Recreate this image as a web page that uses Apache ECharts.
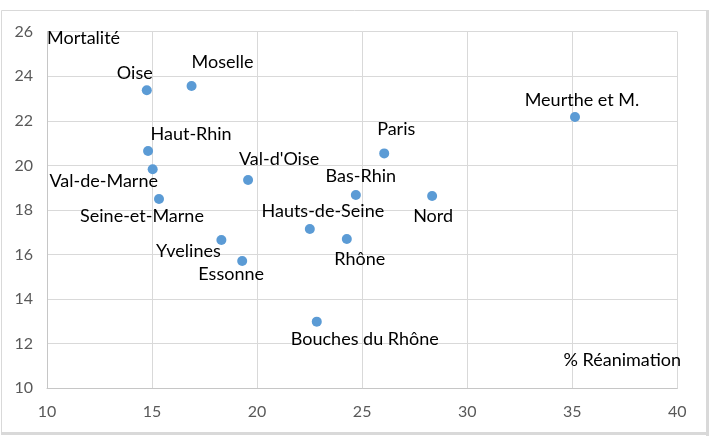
<!DOCTYPE html>
<html>
<head>
<meta charset="utf-8">
<script src="https://cdn.jsdelivr.net/npm/echarts@6/dist/echarts.min.js"></script>
<style>html,body{margin:0;padding:0;background:#fff}#c{width:709px;height:444px}</style>
</head>
<body>
<div id="c"></div>
<script>
const names = ["Oise","Moselle","Haut-Rhin","Val-de-Marne","Seine-et-Marne","Val-d'Oise","Yvelines","Essonne","Paris","Bas-Rhin","Nord","Hauts-de-Seine","Rhône","Meurthe et M.","Bouches du Rhône"];
const reanimation = [14.75,16.88,14.81,15.03,15.33,19.57,18.30,19.29,26.05,24.70,28.33,22.51,24.27,35.13,22.84];
const mortalite   = [23.37,23.56,20.65,19.83,18.49,19.35,16.65,15.71,20.54,18.67,18.63,17.15,16.70,22.17,12.99];
const xTicks = [10,15,20,25,30,35,40];
const yTicks = [10,12,14,16,18,20,22,24,26];
// label offsets (style only)
const labelOffsets = [[-12,-17],[31,-24],[43,-17],[-49,12],[-17,17],[31,-21],[-33,11],[-11,13],[12,-24],[5,-19],[1,20],[13,-18],[13,20],[7,-17],[48,18]];

const FONT = 'Lato';
const data = names.map((n,i)=>({name:n, value:[reanimation[i], mortalite[i]]}));

const chart = echarts.init(document.getElementById('c'), null, {renderer:'canvas'});
chart.setOption({
  animation:false,
  backgroundColor:'#fff',
  textStyle:{fontFamily:FONT},
  grid:{left:47, right:31.7, top:31.7, bottom:55.7, containLabel:false},
  xAxis:{
    type:'value', min:xTicks[0], max:xTicks[xTicks.length-1], interval:5,
    axisLine:{show:true, lineStyle:{color:'#c6c6c6', width:1}},
    axisTick:{show:false},
    axisLabel:{color:'#595959', fontSize:16, fontFamily:FONT, margin:16},
    splitLine:{show:true, lineStyle:{color:'#d9d9d9', width:1}}
  },
  yAxis:{
    type:'value', min:yTicks[0], max:yTicks[yTicks.length-1], interval:2,
    name:'Mortalité', nameLocation:'end', nameGap:-6,
    nameTextStyle:{color:'#000', fontSize:18, fontFamily:FONT, align:'left', verticalAlign:'middle'},
    axisLine:{show:true, lineStyle:{color:'#c6c6c6', width:1}},
    axisTick:{show:false},
    axisLabel:{color:'#595959', fontSize:16, fontFamily:FONT, margin:14},
    splitLine:{show:true, lineStyle:{color:'#d9d9d9', width:1}}
  },
  graphic:[
    {type:'rect', shape:{x:1.5,y:10.5,width:706,height:423}, style:{fill:null, stroke:'#d9d9d9', lineWidth:1}, silent:true},
    {type:'rect', shape:{x:706,y:10,width:3,height:426}, style:{fill:'#d9d9d9'}, silent:true},
    {type:'rect', shape:{x:1,y:432,width:708,height:3}, style:{fill:'#d9d9d9'}, silent:true},
    {type:'text', x:681, y:360, silent:true, z:10,
     style:{text:'% Réanimation', fill:'#000', fontSize:18, fontFamily:FONT, align:'right', verticalAlign:'middle'}}
  ],
  series:[{
    type:'scatter',
    symbol:'circle',
    symbolSize:10,
    itemStyle:{color:'#5B9BD5', opacity:1},
    label:{show:true, position:'inside', formatter:'{b}', color:'#000', fontSize:18, fontFamily:FONT},
    labelLayout:function(p){
      const o = labelOffsets[p.dataIndex];
      return {dx:o[0], dy:o[1], hideOverlap:false};
    },
    data:data
  }]
});
</script>
</body>
</html>
